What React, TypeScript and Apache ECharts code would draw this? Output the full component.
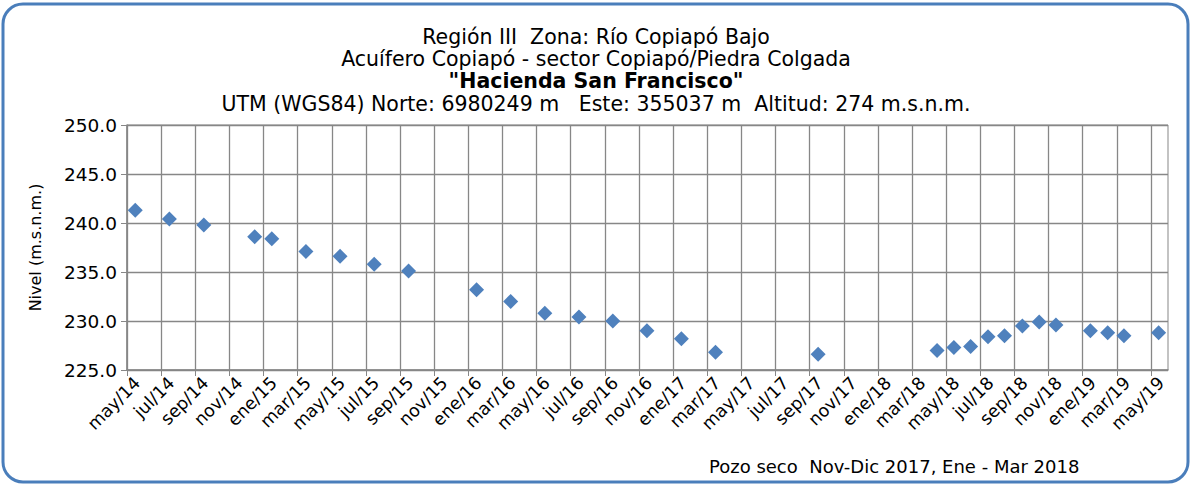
import React, { useEffect, useRef } from "react";
import * as echarts from "echarts";

const titleLines = [
  "Región III  Zona: Río Copiapó Bajo",
  "Acuífero Copiapó - sector Copiapó/Piedra Colgada",
  "\"Hacienda San Francisco\"",
  "UTM (WGS84) Norte: 6980249 m   Este: 355037 m  Altitud: 274 m.s.n.m.",
];
const footNote = "Pozo seco  Nov-Dic 2017, Ene - Mar 2018";
const yAxisName = "Nivel (m.s.n.m.)";
const monthNames = ["ene", "feb", "mar", "abr", "may", "jun", "jul", "ago", "sep", "oct", "nov", "dic"];

// measurement dates and levels (m.s.n.m.)
const dates = [
  "2014-05-16", "2014-07-16", "2014-09-16", "2014-12-16", "2015-01-16",
  "2015-03-16", "2015-05-16", "2015-07-16", "2015-09-16", "2016-01-16",
  "2016-03-16", "2016-05-16", "2016-07-16", "2016-09-15", "2016-11-15",
  "2017-01-16", "2017-03-16", "2017-09-16", "2018-04-15", "2018-05-15",
  "2018-06-14", "2018-07-15", "2018-08-14", "2018-09-15", "2018-10-15",
  "2018-11-14", "2019-01-15", "2019-02-14", "2019-03-14", "2019-05-15",
];
const levels = [
  241.3, 240.4, 239.8, 238.6, 238.4,
  237.1, 236.6, 235.8, 235.1, 233.2,
  232.0, 230.8, 230.4, 230.0, 229.0,
  228.2, 226.8, 226.6, 227.0, 227.3,
  227.4, 228.4, 228.5, 229.5, 229.9,
  229.6, 229.0, 228.8, 228.5, 228.8,
];

// axis range: months counted from may/2014 (0) to jun/2019 (61)
const startYear = 2014;
const startMonth = 5;
const axisMonths = 61;
const tickStep = 2;
const yMin = 225;
const yMax = 250;
const yStep = 5;
const labelShift = 0.6; // label anchor shift, in months

function monthOffset(d: string): number {
  const [y, m, day] = d.split("-").map(Number);
  const dim = new Date(y, m, 0).getDate();
  return (y - startYear) * 12 + (m - startMonth) + (day - 1) / dim;
}

function monthLabel(v: number): string {
  const idx = startMonth - 1 + Math.round(v);
  const mName = monthNames[idx % 12];
  const yr = (startYear + Math.floor(idx / 12)) % 100;
  return `${mName}/${String(yr).padStart(2, "0")}`;
}

const FONT = "DejaVu Sans";
const GRID = "#878787";
const BLUE = "#4f81bd";

export default function App() {
  const ref = useRef<HTMLDivElement>(null);
  useEffect(() => {
    document.body.style.margin = "0";
    if (!ref.current) return;
    const chart = echarts.init(ref.current, null, { renderer: "svg" });
    const tickValues: number[] = [];
    for (let v = 0; v <= axisMonths - 1; v += tickStep) tickValues.push(v);
    const titleTops = [26, 48, 70, 93];
    chart.setOption({
      animation: false,
      backgroundColor: "#ffffff",
      title: titleLines.map((t, i) => ({
        text: t,
        left: "center",
        top: titleTops[i],
        padding: 0,
        textStyle: {
          fontFamily: FONT,
          fontSize: 20.5,
          lineHeight: 21,
          fontWeight: i === 2 ? "bold" : "normal",
          color: "#000",
        },
      })),
      graphic: [
        {
          type: "rect",
          shape: { x: 3, y: 4, width: 1185, height: 478, r: 20 },
          style: { fill: "none", stroke: "#4a7ebb", lineWidth: 3 },
          silent: true,
        },
        {
          type: "text",
          left: 709,
          top: 457,
          style: { text: footNote, font: `18px "${FONT}"`, fill: "#000" },
        },
      ],
      grid: {
        left: 127,
        top: 125,
        right: 1192 - 1168,
        bottom: 486 - 370,
        show: true,
        borderColor: GRID,
        borderWidth: 1,
        containLabel: false,
      },
      xAxis: [
        {
          type: "value",
          min: 0,
          max: axisMonths,
          interval: tickStep,
          axisLine: { show: true, lineStyle: { color: GRID, width: 1.5 } },
          axisTick: {
            show: true,
            length: 6,
            lineStyle: { color: GRID },
            customValues: tickValues,
          },
          axisLabel: { show: false },
          splitLine: { show: true, lineStyle: { color: GRID, width: 1.3 } },
        },
        {
          type: "value",
          position: "bottom",
          min: -labelShift,
          max: axisMonths - labelShift,
          interval: tickStep,
          axisLine: { show: false },
          axisTick: { show: false },
          splitLine: { show: false },
          axisLabel: {
            customValues: tickValues,
            formatter: (v: number) => monthLabel(v),
            rotate: 45,
            margin: 10,
            fontFamily: FONT,
            fontSize: 17.5,
            color: "#000",
          },
        },
      ],
      yAxis: {
        type: "value",
        min: yMin,
        max: yMax,
        interval: yStep,
        name: yAxisName,
        nameLocation: "middle",
        nameGap: 84,
        nameTextStyle: { fontFamily: FONT, fontSize: 16, color: "#000" },
        axisLine: { show: true, lineStyle: { color: GRID, width: 1.5 } },
        axisTick: { show: true, length: 6, lineStyle: { color: GRID } },
        axisLabel: {
          formatter: (v: number) => v.toFixed(1),
          margin: 10,
          fontFamily: FONT,
          fontSize: 18.5,
          color: "#000",
        },
        splitLine: { show: true, lineStyle: { color: GRID, width: 1.3 } },
      },
      series: [
        {
          type: "scatter",
          xAxisIndex: 0,
          symbol: "diamond",
          symbolSize: [15, 15],
          itemStyle: { color: BLUE, opacity: 1 },
          data: dates.map((d, i) => [monthOffset(d), levels[i]]),
        },
      ],
    });
    return () => chart.dispose();
  }, []);
  return <div ref={ref} style={{ width: 1192, height: 486 }} />;
}
